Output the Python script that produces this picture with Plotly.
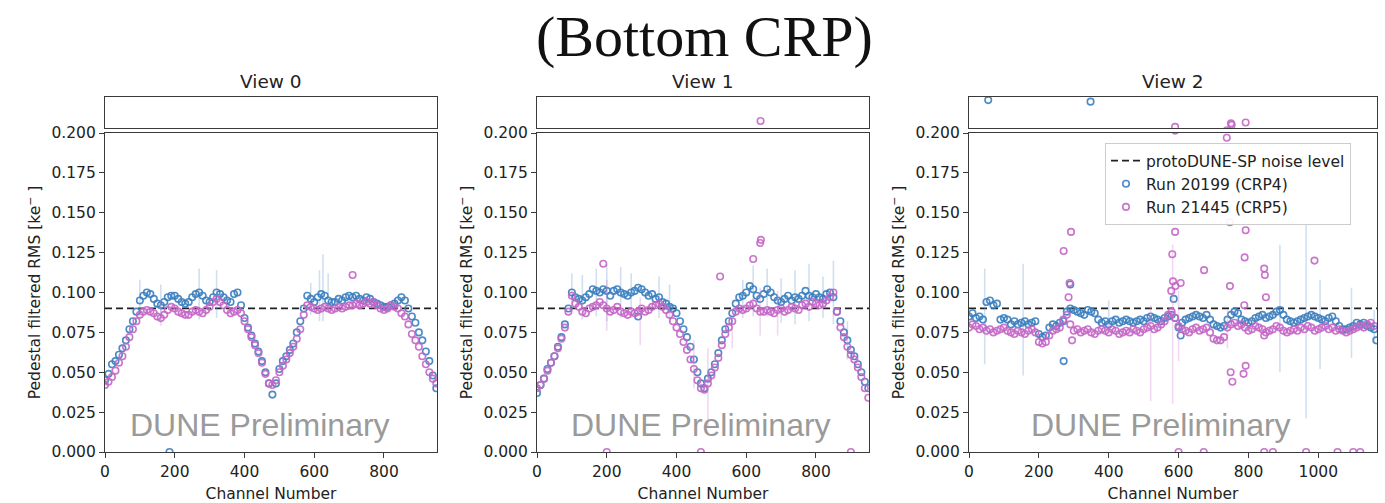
import plotly.graph_objects as go

# ---------------- data (one value every 10 channels) ----------------
view_names = ["View 0", "View 1", "View 2"]
n_channels = [952, 952, 1168]
noise_level = 0.09

view0_crp4 = [.045, .049, .055, .057, .061, .065, .070, .077, .082, .088,
              .095, .098, .100, .099, .096, .093, .092, .094, .097, .098,
              .098, .096, .094, .093, .094, .097, .099, .100, .098, .095,
              .094, .097, .100, .099, .097, .095, .094, .099, .100, .092,
              .084, .078, .073, .068, .063, .057, .050, .043, .036, .043,
              .052, .057, .060, .064, .068, .075, .082, .090, .098, .096,
              .094, .097, .099, .098, .095, .094, .094, .096, .095, .097,
              .098, .097, .098, .096, .095, .097, .096, .094, .093, .092,
              .091, .091, .092, .093, .095, .097, .095, .090, .085, .081,
              .075, .070, .063, .057, .048, .040]
view0_crp5 = [.042, .044, .047, .051, .056, .060, .066, .072, .077, .082,
              .086, .088, .089, .088, .087, .085, .084, .086, .089, .091,
              .090, .088, .087, .086, .086, .088, .089, .088, .087, .089,
              .091, .094, .096, .094, .092, .089, .087, .088, .089, .087,
              .082, .077, .072, .067, .062, .056, .049, .043, .042, .045,
              .050, .054, .058, .062, .066, .071, .077, .086, .092, .091,
              .090, .089, .090, .091, .090, .089, .090, .091, .090, .091,
              .092, .092, .093, .092, .093, .094, .093, .094, .092, .090,
              .089, .090, .092, .091, .090, .087, .085, .080, .074, .070,
              .066, .060, .055, .050, .046, .043]

view1_crp4 = [.037, .042, .046, .052, .056, .060, .066, .072, .080, .090,
              .100, .097, .096, .095, .097, .099, .102, .101, .100, .102,
              .101, .098, .101, .102, .100, .099, .098, .100, .101, .103,
              .102, .100, .098, .099, .096, .097, .094, .093, .091, .090,
              .087, .082, .077, .072, .066, .058, .050, .043, .040, .046,
              .050, .055, .062, .070, .077, .082, .087, .093, .097, .098,
              .100, .104, .102, .098, .096, .099, .102, .100, .097, .095,
              .094, .096, .098, .095, .097, .096, .098, .101, .098, .097,
              .099, .097, .096, .099, .100, .097, .088, .082, .075, .070,
              .064, .060, .055, .050, .044, .040]
view1_crp5 = [.040, .042, .046, .051, .056, .060, .065, .071, .078, .088,
              .098, .093, .091, .088, .087, .090, .091, .092, .094, .092,
              .090, .088, .089, .091, .088, .087, .086, .088, .087, .088,
              .090, .088, .089, .091, .092, .093, .091, .089, .086, .082,
              .078, .074, .069, .064, .058, .052, .045, .040, .039, .043,
              .048, .053, .059, .067, .074, .078, .082, .088, .090, .089,
              .090, .092, .093, .090, .088, .088, .089, .088, .087, .089,
              .090, .088, .089, .091, .090, .089, .092, .093, .091, .094,
              .093, .092, .093, .095, .097, .100, .088, .078, .072, .066,
              .061, .058, .053, .047, .040, .034]

view2_crp4 = [.085, .087, .084, .085, .083, .094, .095, .092, .093, .083,
              .084, .083, .080, .082, .080, .081, .082, .080, .081, .082,
              .074, .072, .073, .078, .080, .079, .081, .082, .088, .090,
              .089, .088, .087, .086, .089, .088, .087, .083, .081, .082,
              .080, .082, .083, .081, .082, .083, .082, .081, .082, .083,
              .082, .084, .085, .084, .083, .082, .084, .085, .086, .084,
              .078, .081, .083, .084, .085, .086, .085, .084, .086, .083,
              .080, .079, .078, .079, .083, .086, .088, .087, .083, .082,
              .081, .082, .084, .085, .086, .084, .085, .086, .088, .089,
              .086, .083, .082, .081, .082, .083, .084, .085, .086, .085,
              .084, .083, .082, .084, .085, .082, .079, .077, .077, .078,
              .079, .081, .080, .081, .079, .078, .077]
view2_crp5 = [.078, .080, .079, .077, .078, .076, .077, .075, .076, .077,
              .078, .076, .075, .074, .076, .075, .074, .076, .077, .075,
              .069, .068, .069, .073, .076, .077, .078, .083, .086, .080,
              .076, .077, .075, .076, .077, .075, .074, .076, .077, .076,
              .075, .077, .076, .074, .075, .076, .075, .077, .076, .075,
              .077, .078, .079, .077, .078, .080, .082, .086, .088, .084,
              .079, .077, .076, .075, .077, .078, .076, .077, .078, .075,
              .071, .070, .070, .072, .078, .080, .081, .079, .080, .078,
              .076, .077, .079, .078, .077, .075, .076, .077, .079, .078,
              .076, .075, .076, .077, .076, .078, .077, .079, .078, .076,
              .077, .078, .079, .077, .078, .076, .077, .076, .075, .076,
              .077, .078, .079, .078, .080, .081, .079]

# isolated channels (outliers, dead channels at 0, points above the axis break)
outl_ch_crp4 = [[185], [290], [55, 271, 290, 348, 586, 606, 1166]]
outl_v_crp4 = [[0.0], [0.085], [0.236, 0.057, 0.105, 0.234, 0.096, 0.073, 0.070]]
outl_ch_crp5 = [[710],
                [190, 525, 620, 640, 642, 641, 200, 470, 900],
                [271, 292, 288, 285, 295, 582, 590, 584, 591, 606, 579, 673, 747, 747,
                 738, 749, 754, 786, 792, 792, 789, 788, 845, 847, 850, 989, 845,
                 750, 752, 792, 590, 600, 672, 845, 870, 965, 1055, 1100, 1120]]
outl_v_crp5 = [[0.111],
               [0.118, 0.110, 0.121, 0.131, 0.133, 0.209, 0.0, 0.0, 0.0],
               [0.126, 0.138, 0.106, 0.097, 0.070, 0.124, 0.138, 0.107, 0.104, 0.106, 0.101,
                0.114, 0.144, 0.104, 0.197, 0.050, 0.044, 0.049, 0.054, 0.139, 0.122, 0.092,
                0.115, 0.111, 0.097, 0.120, 0.073, 0.206, 0.204, 0.207, 0.2015,
                0.0, 0.0, 0.0, 0.0, 0.0, 0.0, 0.0, 0.0, 0.0]]

# visible error bars: channel, value, half length
eb_ch_crp4 = [[100, 160, 270, 320, 590, 615, 625, 640],
              [100, 130, 170, 200, 240, 270, 350, 380, 590, 620, 660, 700, 740, 780, 820, 850, 890],
              [45, 155, 400, 890, 965, 1005, 1095, 1160]]
eb_v_crp4 = [[.096, .093, .099, .099, .096, .098, .103, .100],
             [.100, .097, .100, .100, .100, .098, .097, .093, .096, .101, .100, .095, .097, .100, .097, .100, .070],
             [.085, .083, .085, .090, .083, .080, .081, .079]]
eb_e_crp4 = [[.012, .012, .016, .015, .010, .016, .021, .012],
             [.012, .014, .015, .018, .016, .014, .013, .012, .012, .016, .015, .014, .017, .018, .013, .020, .012],
             [.030, .035, .010, .040, .062, .028, .022, .010]]
eb_ch_crp5 = [[160], [200, 296, 450, 490, 640, 690, 560], [520, 583, 600, 740]]
eb_v_crp5 = [[.087], [.092, .082, .055, .040, .088, .087, .075], [.062, .080, .079, .077]]
eb_e_crp5 = [[.008], [.016, .015, .015, .025, .015, .014, .010], [.030, .050, .022, .012]]

crp4_main = [view0_crp4, view1_crp4, view2_crp4]
crp5_main = [view0_crp5, view1_crp5, view2_crp5]

# ---------------- styling / layout ----------------
W, H = 1385, 503
BLUE = "#3a7ebf"
MAG = "#c466c6"
BLUE_EB = "rgba(120,165,215,0.35)"
MAG_EB = "rgba(215,140,215,0.35)"
AX_COL = "#3a3a3a"
FONT = "DejaVu Sans"

px_left = [105, 537, 969]
px_right = [437, 869, 1377]
main_top, main_bot = 133, 452
up_top, up_bot = 97, 128
up_range = [0.2, 0.24]


def fy(p):
    return 1 - p / H


fig = go.Figure()
layout = dict(width=W, height=H, margin=dict(l=0, r=0, t=0, b=0, autoexpand=False),
              paper_bgcolor="white", plot_bgcolor="white",
              font=dict(family=FONT, size=16, color="#222"),
              showlegend=True, annotations=[])

for i in range(3):
    mx, my = f"x{2*i+1}", f"y{2*i+1}"
    ux, uy = f"x{2*i+2}", f"y{2*i+2}"
    mxa = "xaxis" if i == 0 else f"xaxis{2*i+1}"
    mya = "yaxis" if i == 0 else f"yaxis{2*i+1}"
    uxa, uya = f"xaxis{2*i+2}", f"yaxis{2*i+2}"
    dom_x = [px_left[i] / W, px_right[i] / W]
    nch = n_channels[i]
    ch = list(range(0, nch, 10))[:len(crp4_main[i])]

    # noise level line
    fig.add_trace(go.Scatter(x=[0, nch], y=[noise_level, noise_level], mode="lines",
                             xaxis=mx, yaxis=my, name="protoDUNE-SP noise level",
                             line=dict(color="#222", width=1.8, dash="7px,4px"),
                             showlegend=(i == 0), legendrank=1, hoverinfo="skip"))
    # keep the upper (broken-axis) box present even if empty
    fig.add_trace(go.Scatter(x=[None], y=[None], mode="markers", xaxis=ux, yaxis=uy,
                             showlegend=False, hoverinfo="skip"))

    for (main, och, ov, ebc, ebv, ebe, col, ebcol, nm, rk) in [
        (crp4_main[i], outl_ch_crp4[i], outl_v_crp4[i], eb_ch_crp4[i], eb_v_crp4[i], eb_e_crp4[i],
         BLUE, BLUE_EB, "Run 20199 (CRP4)", 2),
        (crp5_main[i], outl_ch_crp5[i], outl_v_crp5[i], eb_ch_crp5[i], eb_v_crp5[i], eb_e_crp5[i],
         MAG, MAG_EB, "Run 21445 (CRP5)", 3)]:
        fig.add_trace(go.Scatter(x=ebc, y=ebv, mode="markers", xaxis=mx, yaxis=my,
                                 marker=dict(opacity=0, size=2), showlegend=False, hoverinfo="skip",
                                 error_y=dict(type="data", array=ebe, color=ebcol, thickness=1.6, width=0)))
        xs = ch + och
        ys = main + ov
        fig.add_trace(go.Scatter(x=xs, y=ys, mode="markers", xaxis=mx, yaxis=my, name=nm,
                                 marker=dict(symbol="circle-open", size=6.5, color=col,
                                             line=dict(width=1.6, color=col), opacity=0.9),
                                 showlegend=(i == 0), legendrank=rk))
        hi = [(x, y) for x, y in zip(xs, ys) if y > 0.19]
        if hi:
            fig.add_trace(go.Scatter(x=[p[0] for p in hi], y=[p[1] for p in hi], mode="markers",
                                     xaxis=ux, yaxis=uy, showlegend=False,
                                     marker=dict(symbol="circle-open", size=6.5, color=col,
                                                 line=dict(width=1.6, color=col), opacity=0.9)))

    ax_common = dict(showline=True, mirror=True, linecolor=AX_COL, linewidth=1.3,
                     showgrid=False, zeroline=False, automargin=False)
    layout[mxa] = dict(domain=dom_x, range=[0, nch], anchor=my, ticks="outside", ticklen=5,
                       tickcolor=AX_COL, tickvals=list(range(0, nch, 200)),
                       tickfont=dict(family=FONT, size=15.5, color="#222"),
                       title=dict(text="Channel Number", font=dict(family=FONT, size=15.5, color="#222"),
                                  standoff=8),
                       **ax_common)
    layout[mya] = dict(domain=[fy(main_bot), fy(main_top)], range=[0, 0.2], anchor=mx,
                       ticks="outside", ticklen=5, tickcolor=AX_COL,
                       tickvals=[0, 0.025, 0.05, 0.075, 0.1, 0.125, 0.15, 0.175, 0.2],
                       tickformat=".3f", tickfont=dict(family=FONT, size=15.5, color="#222"),
                       title=dict(text="Pedestal filtered RMS [ke<sup>−</sup> ]",
                                  font=dict(family=FONT, size=15.5, color="#222"), standoff=6),
                       **ax_common)
    layout[uxa] = dict(domain=dom_x, range=[0, nch], anchor=uy, showticklabels=False,
                       ticks="", matches=mx, **ax_common)
    layout[uya] = dict(domain=[fy(up_bot), fy(up_top)], range=up_range, anchor=ux,
                       showticklabels=False, ticks="", **ax_common)

    cx = (px_left[i] + px_right[i]) / 2 / W
    layout["annotations"].append(dict(text=view_names[i], x=cx, y=fy(82), xref="paper", yref="paper",
                                      showarrow=False, xanchor="center", yanchor="middle",
                                      font=dict(family=FONT, size=18.5, color="#222")))
    dune_x = [444, 470, 550][i]
    layout["annotations"].append(dict(text="DUNE Preliminary", x=dune_x, y=0.017, xref=mx, yref=my,
                                      showarrow=False, xanchor="center", yanchor="middle",
                                      font=dict(family="Liberation Sans", size=32, color="#9a9a9a")))

layout["annotations"].append(dict(text="(Bottom CRP)", x=704 / W, y=fy(36), xref="paper", yref="paper",
                                  showarrow=False, xanchor="center", yanchor="middle",
                                  font=dict(family="Liberation Serif", size=58, color="#111")))
layout["legend"] = dict(x=1105 / W, y=fy(143), xanchor="left", yanchor="top",
                        bgcolor="rgba(255,255,255,0.9)", bordercolor="#cccccc", borderwidth=1,
                        font=dict(family=FONT, size=15.5, color="#222"), traceorder="normal",
                        tracegroupgap=0, itemwidth=30)
fig.update_layout(**layout)
fig.write_html("out.html")
